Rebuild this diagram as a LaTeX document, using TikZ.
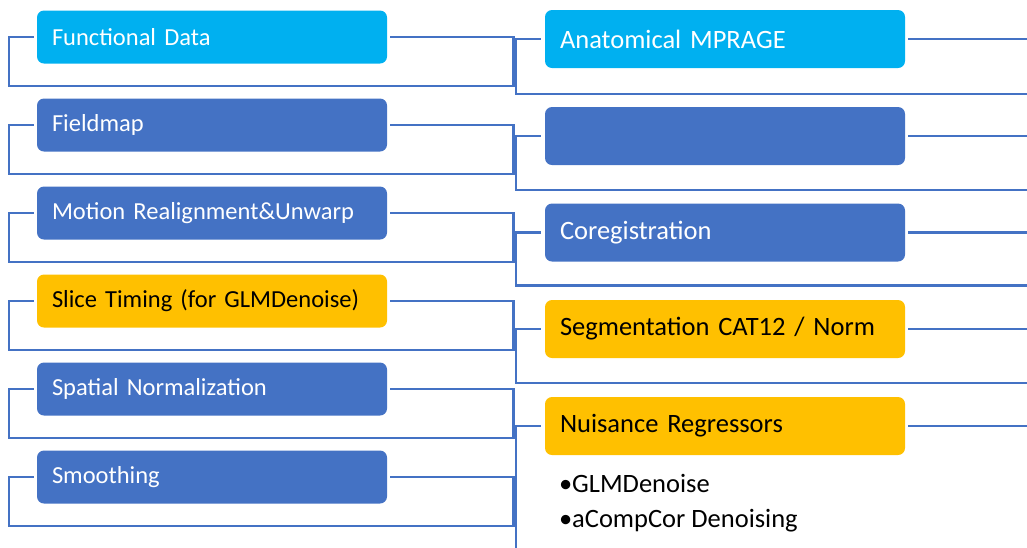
\documentclass[tikz,border=0pt]{standalone}
\usepackage{fontspec}
\setmainfont{Carlito}
\usetikzlibrary{positioning}
\definecolor{lineblue}{HTML}{4472C4}
\definecolor{skyblue}{HTML}{00B0F0}
\definecolor{stepyellow}{HTML}{FFC000}
\tikzset{
  leftbox/.style={rounded corners=7pt, minimum height=53pt, text width=320pt, align=left,
    inner xsep=15pt, inner ysep=0pt, text=white, fill=lineblue, font=\fontsize{24.5}{28}\selectfont},
  rightbox/.style={leftbox, minimum height=58pt, text width=330pt, font=\fontsize{26.5}{30}\selectfont},
  sky/.style={fill=skyblue},
  yellow/.style={fill=stepyellow, text=black},
  link/.style={draw=lineblue, line width=2.6pt},
  bullets/.style={align=left, inner sep=0pt, font=\fontsize{26.5}{35}\selectfont}
}
\begin{document}
\begin{tikzpicture}[x=1pt,y=-1pt]
\clip (0,0) rectangle (1027,547);
\node[leftbox, sky] (l1) at (212,37) {Functional Data};
\node[leftbox] (l2) at (212,125) {Fieldmap};
\node[leftbox] (l3) at (212,213) {Motion Realignment\&Unwarp};
\node[leftbox, yellow] (l4) at (212,301) {Slice Timing (for GLMDenoise)};
\node[leftbox] (l5) at (212,389) {Spatial Normalization};
\node[leftbox] (l6) at (212,477) {Smoothing};
\node[rightbox, sky] (r1) at (725,39) {Anatomical MPRAGE};
\node[rightbox] (r2) at (725,136) {};
\node[rightbox] (r3) at (725,232.5) {Coregistration};
\node[rightbox, yellow] (r4) at (725,329) {Segmentation CAT12 / Norm};
\node[rightbox, yellow] (r5) at (725,426) {Nuisance Regressors};
\node[bullets, anchor=north west] (nb) at ([xshift=14pt,yshift=-19pt]r5.south west)
  {\textbullet GLMDenoise\\\textbullet aCompCor Denoising};
\foreach \n in {1,...,6}
  \draw[link] ([xshift=-3pt]l\n.west) -- ++(-25,0) -- ++(0,49) -| ([xshift=126pt]l\n.east) -- ([xshift=3pt]l\n.east);
\foreach \n/\d in {1/55,2/54,3/53,4/54,5/150}
  \draw[link] ([xshift=-4pt]r\n.west) -- ++(-25,0) -- ++(0,\d) -| ([xshift=150pt]r\n.east) -- ([xshift=3pt]r\n.east);
\end{tikzpicture}
\end{document}
